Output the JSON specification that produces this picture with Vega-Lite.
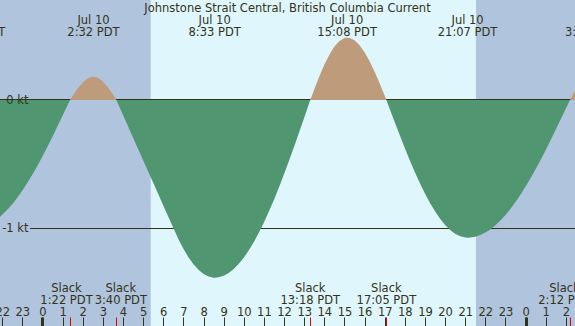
{
  "$schema": "https://vega.github.io/schema/vega-lite/v6.json",
  "width": 575,
  "height": 326,
  "autosize": {"type": "none"},
  "padding": 0,
  "background": "#dff6fd",
  "config": {
    "view": {"stroke": null},
    "font": "DejaVu Sans",
    "axis": {
      "domain": false, "grid": false, "title": null,
      "labelFont": "DejaVu Sans", "labelFontSize": 11.5, "labelColor": "#333318",
      "tickColor": "#333318", "labelFlush": false, "labelOverlap": false, "labelBound": false
    },
    "text": {"font": "DejaVu Sans", "fontSize": 11.5, "color": "#333318", "lineBreak": "\n", "lineHeight": 12, "baseline": "alphabetic", "align": "center"}
  },
  "datasets": {
    "current": [
      {"h": -2.25, "v": -0.929}, {"h": -2.0, "v": -0.897}, {"h": -1.75, "v": -0.858}, {"h": -1.5, "v": -0.814},
      {"h": -1.25, "v": -0.764}, {"h": -1.0, "v": -0.708}, {"h": -0.75, "v": -0.647}, {"h": -0.5, "v": -0.582},
      {"h": -0.25, "v": -0.513}, {"h": 0, "v": -0.44}, {"h": 0.25, "v": -0.363}, {"h": 0.5, "v": -0.285},
      {"h": 0.75, "v": -0.204}, {"h": 1.0, "v": -0.122}, {"h": 1.25, "v": -0.039}, {"h": 1.367, "v": 0},
      {"h": 1.5, "v": 0.032}, {"h": 1.75, "v": 0.09}, {"h": 2.0, "v": 0.137}, {"h": 2.25, "v": 0.169},
      {"h": 2.5, "v": 0.182}, {"h": 2.533, "v": 0.182}, {"h": 2.75, "v": 0.174}, {"h": 3.0, "v": 0.145},
      {"h": 3.25, "v": 0.099}, {"h": 3.5, "v": 0.042}, {"h": 3.667, "v": 0},
      {"h": 3.75, "v": -0.029}, {"h": 4.0, "v": -0.118}, {"h": 4.25, "v": -0.206}, {"h": 4.5, "v": -0.294},
      {"h": 4.75, "v": -0.382}, {"h": 5.0, "v": -0.471}, {"h": 5.25, "v": -0.559}, {"h": 5.5, "v": -0.647},
      {"h": 5.75, "v": -0.735}, {"h": 6.0, "v": -0.824}, {"h": 6.25, "v": -0.912}, {"h": 6.5, "v": -1.0},
      {"h": 6.75, "v": -1.086}, {"h": 7.0, "v": -1.162}, {"h": 7.25, "v": -1.228}, {"h": 7.5, "v": -1.283},
      {"h": 7.75, "v": -1.327}, {"h": 8.0, "v": -1.359}, {"h": 8.25, "v": -1.379}, {"h": 8.5, "v": -1.388},
      {"h": 8.55, "v": -1.388}, {"h": 8.75, "v": -1.385}, {"h": 9.0, "v": -1.373}, {"h": 9.25, "v": -1.351},
      {"h": 9.5, "v": -1.32}, {"h": 9.75, "v": -1.28}, {"h": 10.0, "v": -1.232}, {"h": 10.25, "v": -1.174},
      {"h": 10.5, "v": -1.109}, {"h": 10.75, "v": -1.036}, {"h": 11.0, "v": -0.957}, {"h": 11.25, "v": -0.87},
      {"h": 11.5, "v": -0.779}, {"h": 11.75, "v": -0.681}, {"h": 12.0, "v": -0.579}, {"h": 12.25, "v": -0.472},
      {"h": 12.5, "v": -0.363}, {"h": 12.75, "v": -0.251}, {"h": 13.0, "v": -0.138}, {"h": 13.25, "v": -0.023},
      {"h": 13.3, "v": 0}, {"h": 13.5, "v": 0.083}, {"h": 13.75, "v": 0.183}, {"h": 14.0, "v": 0.275},
      {"h": 14.25, "v": 0.354}, {"h": 14.5, "v": 0.417}, {"h": 14.75, "v": 0.461}, {"h": 15.0, "v": 0.484},
      {"h": 15.133, "v": 0.487}, {"h": 15.25, "v": 0.485}, {"h": 15.5, "v": 0.466}, {"h": 15.75, "v": 0.428},
      {"h": 16.0, "v": 0.373}, {"h": 16.25, "v": 0.303}, {"h": 16.5, "v": 0.22}, {"h": 16.75, "v": 0.129},
      {"h": 17.0, "v": 0.033}, {"h": 17.083, "v": 0}, {"h": 17.25, "v": -0.07}, {"h": 17.5, "v": -0.174},
      {"h": 17.75, "v": -0.276}, {"h": 18.0, "v": -0.376}, {"h": 18.25, "v": -0.472}, {"h": 18.5, "v": -0.564},
      {"h": 18.75, "v": -0.65}, {"h": 19.0, "v": -0.73}, {"h": 19.25, "v": -0.804}, {"h": 19.5, "v": -0.87},
      {"h": 19.75, "v": -0.927}, {"h": 20.0, "v": -0.976}, {"h": 20.25, "v": -1.015}, {"h": 20.5, "v": -1.045},
      {"h": 20.75, "v": -1.065}, {"h": 21.0, "v": -1.075}, {"h": 21.117, "v": -1.076}, {"h": 21.25, "v": -1.075},
      {"h": 21.5, "v": -1.068}, {"h": 21.75, "v": -1.055}, {"h": 22.0, "v": -1.036}, {"h": 22.25, "v": -1.011},
      {"h": 22.5, "v": -0.979}, {"h": 22.75, "v": -0.942}, {"h": 23.0, "v": -0.899}, {"h": 23.25, "v": -0.85},
      {"h": 23.5, "v": -0.797}, {"h": 23.75, "v": -0.739}, {"h": 24.0, "v": -0.676}, {"h": 24.25, "v": -0.61},
      {"h": 24.5, "v": -0.54}, {"h": 24.75, "v": -0.466}, {"h": 25.0, "v": -0.39}, {"h": 25.25, "v": -0.311},
      {"h": 25.5, "v": -0.231}, {"h": 25.75, "v": -0.149}, {"h": 26.0, "v": -0.066}, {"h": 26.2, "v": 0},
      {"h": 26.25, "v": 0.014}, {"h": 26.5, "v": 0.083}, {"h": 26.75, "v": 0.141}
    ],
    "night": [
      {"start": -2.6, "end": 5.375},
      {"start": 21.535, "end": 27.0}
    ],
    "levels": [
      {"kt": 0},
      {"kt": -1}
    ],
    "events": [
      {"h": -3.33, "label": "Jul 9\n20:40 PDT"},
      {"h": 2.533, "label": "Jul 10\n2:32 PDT"},
      {"h": 8.55, "label": "Jul 10\n8:33 PDT"},
      {"h": 15.133, "label": "Jul 10\n15:08 PDT"},
      {"h": 21.117, "label": "Jul 10\n21:07 PDT"},
      {"h": 27.25, "label": "Jul 11\n3:15 PDT"}
    ],
    "slack": [
      {"h": 1.367, "label": "Slack\n1:22 PDT"},
      {"h": 3.667, "label": "Slack\n3:40 PDT"},
      {"h": 13.3, "label": "Slack\n13:18 PDT"},
      {"h": 17.083, "label": "Slack\n17:05 PDT"},
      {"h": 26.2, "label": "Slack\n2:12 PDT"}
    ]
  },
  "resolve": {"axis": {"x": "independent", "y": "independent"}},
  "layer": [
    {
      "data": {"name": "night"},
      "mark": {"type": "rect", "color": "#b0c4de"},
      "encoding": {
        "x": {"field": "start", "type": "quantitative",
              "scale": {"domain": [-2.111, 26.453], "nice": false, "zero": false},
              "axis": {"orient": "bottom", "offset": -9, "values": [0, 24], "tickSize": 9, "tickWidth": 3, "labels": false, "zindex": 2}},
        "x2": {"field": "end"}
      }
    },
    {
      "data": {"name": "levels"},
      "transform": [{"filter": "datum.kt == 0"}],
      "mark": {"type": "rule", "color": "#333318", "strokeWidth": 1, "yOffset": -0.5},
      "encoding": {"y": {"field": "kt", "type": "quantitative",
              "scale": {"domain": [-1.765625, 0.78125], "nice": false, "zero": false},
              "axis": {"orient": "left", "offset": -30, "values": [0, -1], "ticks": false, "labelPadding": 2, "labelExpr": "datum.value + ' kt'", "labelBaseline": "middle", "zindex": 2}}}
    },
    {
      "data": {"name": "levels"},
      "transform": [{"filter": "datum.kt == -1"}],
      "mark": {"type": "rule", "color": "#333318", "strokeWidth": 1, "yOffset": 0.5},
      "encoding": {
        "y": {"field": "kt", "type": "quantitative", "axis": null},
        "x": {"datum": -0.62, "axis": null},
        "x2": {"datum": 26.453}
      }
    },
    {
      "data": {"name": "current"},
      "transform": [{"filter": "datum.v <= 0"}],
      "mark": {"type": "area", "color": "#509670", "interpolate": "linear"},
      "encoding": {
        "x": {"field": "h", "type": "quantitative",
              "axis": {"orient": "bottom", "offset": -9, "values": [-2,-1,0,1,2,3,4,5,6,7,8,9,10,11,12,13,14,15,16,17,18,19,20,21,22,23,24,25,26], "tickSize": 9, "tickWidth": 1, "labels": false, "zindex": 1}},
        "y": {"field": "v", "type": "quantitative", "axis": null},
        "y2": {"datum": 0}
      }
    },
    {
      "data": {"name": "current"},
      "transform": [{"filter": "datum.v >= 0"}],
      "mark": {"type": "area", "color": "#be9b7b", "interpolate": "linear"},
      "encoding": {
        "x": {"field": "h", "type": "quantitative",
              "axis": {"orient": "top", "offset": -317, "values": [-2,-1,0,1,2,3,4,5,6,7,8,9,10,11,12,13,14,15,16,17,18,19,20,21,22,23,24,25,26], "ticks": false, "labelPadding": 1.5, "labelBaseline": "alphabetic", "labelExpr": "(datum.value + 24) % 24", "zindex": 1}},
        "y": {"field": "v", "type": "quantitative", "axis": null},
        "y2": {"datum": 0}
      }
    },
    {
      "data": {"values": [{"title": "Johnstone Strait Central, British Columbia Current"}]},
      "mark": {"type": "text"},
      "encoding": {
        "x": {"datum": 12.171, "axis": null},
        "y": {"datum": 0.6875, "axis": null},
        "text": {"field": "title"}
      }
    },
    {
      "data": {"name": "events"},
      "mark": {"type": "text"},
      "encoding": {
        "x": {"field": "h", "type": "quantitative", "axis": null},
        "y": {"datum": 0.59375, "axis": null},
        "text": {"field": "label"}
      }
    },
    {
      "data": {"name": "slack"},
      "transform": [{"filter": "datum.h > 10 && datum.h < 20"}],
      "mark": {"type": "text"},
      "encoding": {
        "x": {"field": "h", "type": "quantitative",
              "axis": {"orient": "bottom", "offset": -9, "values": [1.367, 3.667, 13.3, 17.083, 26.2], "tickSize": 9, "tickWidth": 1, "tickColor": "#e00000", "labels": false, "zindex": 3}},
        "y": {"datum": -1.4977, "axis": null},
        "text": {"field": "label"}
      }
    },
    {
      "data": {"name": "slack"},
      "transform": [{"filter": "datum.h < 2"}],
      "mark": {"type": "text", "dx": -3.5},
      "encoding": {
        "x": {"field": "h", "type": "quantitative", "axis": null},
        "y": {"datum": -1.4977, "axis": null},
        "text": {"field": "label"}
      }
    },
    {
      "data": {"name": "slack"},
      "transform": [{"filter": "datum.h > 3 && datum.h < 4"}],
      "mark": {"type": "text", "dx": 4.5},
      "encoding": {
        "x": {"field": "h", "type": "quantitative", "axis": null},
        "y": {"datum": -1.4977, "axis": null},
        "text": {"field": "label"}
      }
    },
    {
      "data": {"name": "slack"},
      "transform": [{"filter": "datum.h > 25"}],
      "mark": {"type": "text", "dx": -5.5},
      "encoding": {
        "x": {"field": "h", "type": "quantitative", "axis": null},
        "y": {"datum": -1.4977, "axis": null},
        "text": {"field": "label"}
      }
    }
  ]
}
